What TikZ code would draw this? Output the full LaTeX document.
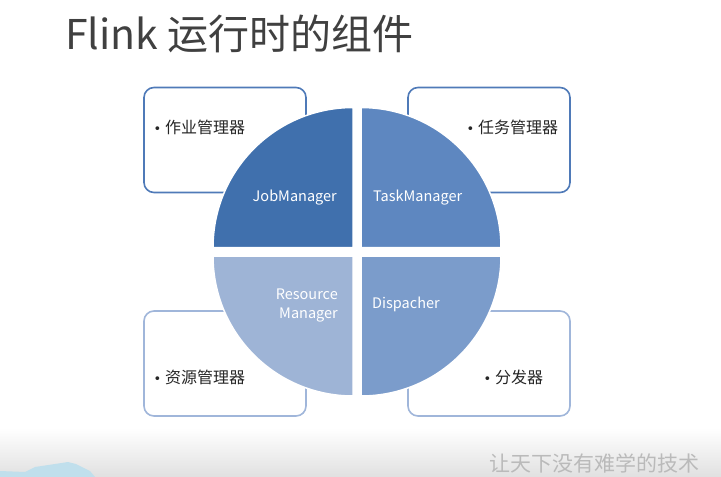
\documentclass[tikz,border=0pt]{standalone}
\usepackage{fontspec}
\setmainfont{Noto Sans CJK SC}
\newfontfamily\dotfont{DejaVu Sans}
\usetikzlibrary{positioning}

\definecolor{jobblue}{RGB}{64,112,173}
\definecolor{taskblue}{RGB}{94,135,192}
\definecolor{resblue}{RGB}{158,180,214}
\definecolor{dispblue}{RGB}{123,156,203}
\definecolor{topline}{RGB}{79,122,184}
\definecolor{botline}{RGB}{160,182,218}
\definecolor{titlegray}{RGB}{64,64,64}
\definecolor{hillblue}{RGB}{192,223,236}

\newcommand{\itemdot}{{\dotfont\fontsize{13}{15}\selectfont •}\kern4pt}

\tikzset{
  infobox/.style={draw, line width=1.6pt, rounded corners=10pt, fill=white,
    minimum width=162pt, minimum height=105pt, inner sep=0pt},
  quarter/.style={draw=white, line width=1.5pt},
  itemtext/.style={anchor=west, font=\fontsize{16}{18}\selectfont, text=black!85},
  parttext/.style={font=\fontsize{14.5}{19}\selectfont, text=white, inner sep=0pt}
}

\begin{document}
\begin{tikzpicture}[x=1pt, y=-1pt]
\useasboundingbox (0,0) rectangle (721,477);

% background bottom
\shade[top color=white, bottom color=black!12] (0,428) rectangle (721,477);
\fill[hillblue] (0,471) -- (25,472) -- (35,467) -- (55,464) -- (68,462)
  -- (76,464) -- (90,471) -- (95,477) -- (0,477) -- cycle;

% title
\node[anchor=west, inner sep=0pt, text=titlegray, font=\fontsize{41}{46}\selectfont] (title) at (65,34) {Flink 运行时的组件};

% boxes
\node[infobox, draw=topline] (jobbox) at (225,140) {};
\node[infobox, draw=topline] (taskbox) at (489,140) {};
\node[infobox, draw=botline] (resbox) at (225,363.5) {};
\node[infobox, draw=botline] (dispbox) at (489,363.5) {};

% quarters
\filldraw[quarter, fill=jobblue] (353,247.5) -- (213,247.5) arc[start angle=180, end angle=270, radius=140] -- cycle;
\filldraw[quarter, fill=taskblue] (361,247.5) -- (361,107.5) arc[start angle=270, end angle=360, radius=140] -- cycle;
\filldraw[quarter, fill=dispblue] (361,256) -- (501,256) arc[start angle=0, end angle=90, radius=140] -- cycle;
\filldraw[quarter, fill=resblue] (353,256) -- (353,396) arc[start angle=90, end angle=180, radius=140] -- cycle;

% quarter labels
\node[parttext, anchor=east] (job) at (337,198) {JobManager};
\node[parttext, anchor=west] (task) at (373,198) {TaskManager};
\node[parttext, anchor=east, align=right] (res) at (338,305) {Resource\\Manager};
\node[parttext, anchor=west] (disp) at (372,304) {Dispacher};

% box items
\node[itemtext] (jobitem) at (150,127) {\itemdot 作业管理器};
\node[itemtext] (taskitem) at (463,127) {\itemdot 任务管理器};
\node[itemtext] (resitem) at (150,377) {\itemdot 资源管理器};
\node[itemtext] (dispitem) at (480,377) {\itemdot 分发器};

% footer
\node[anchor=east, text=black!27, font=\fontsize{21}{24}\selectfont] (slogan) at (703,463) {让天下没有难学的技术};
\end{tikzpicture}
\end{document}
